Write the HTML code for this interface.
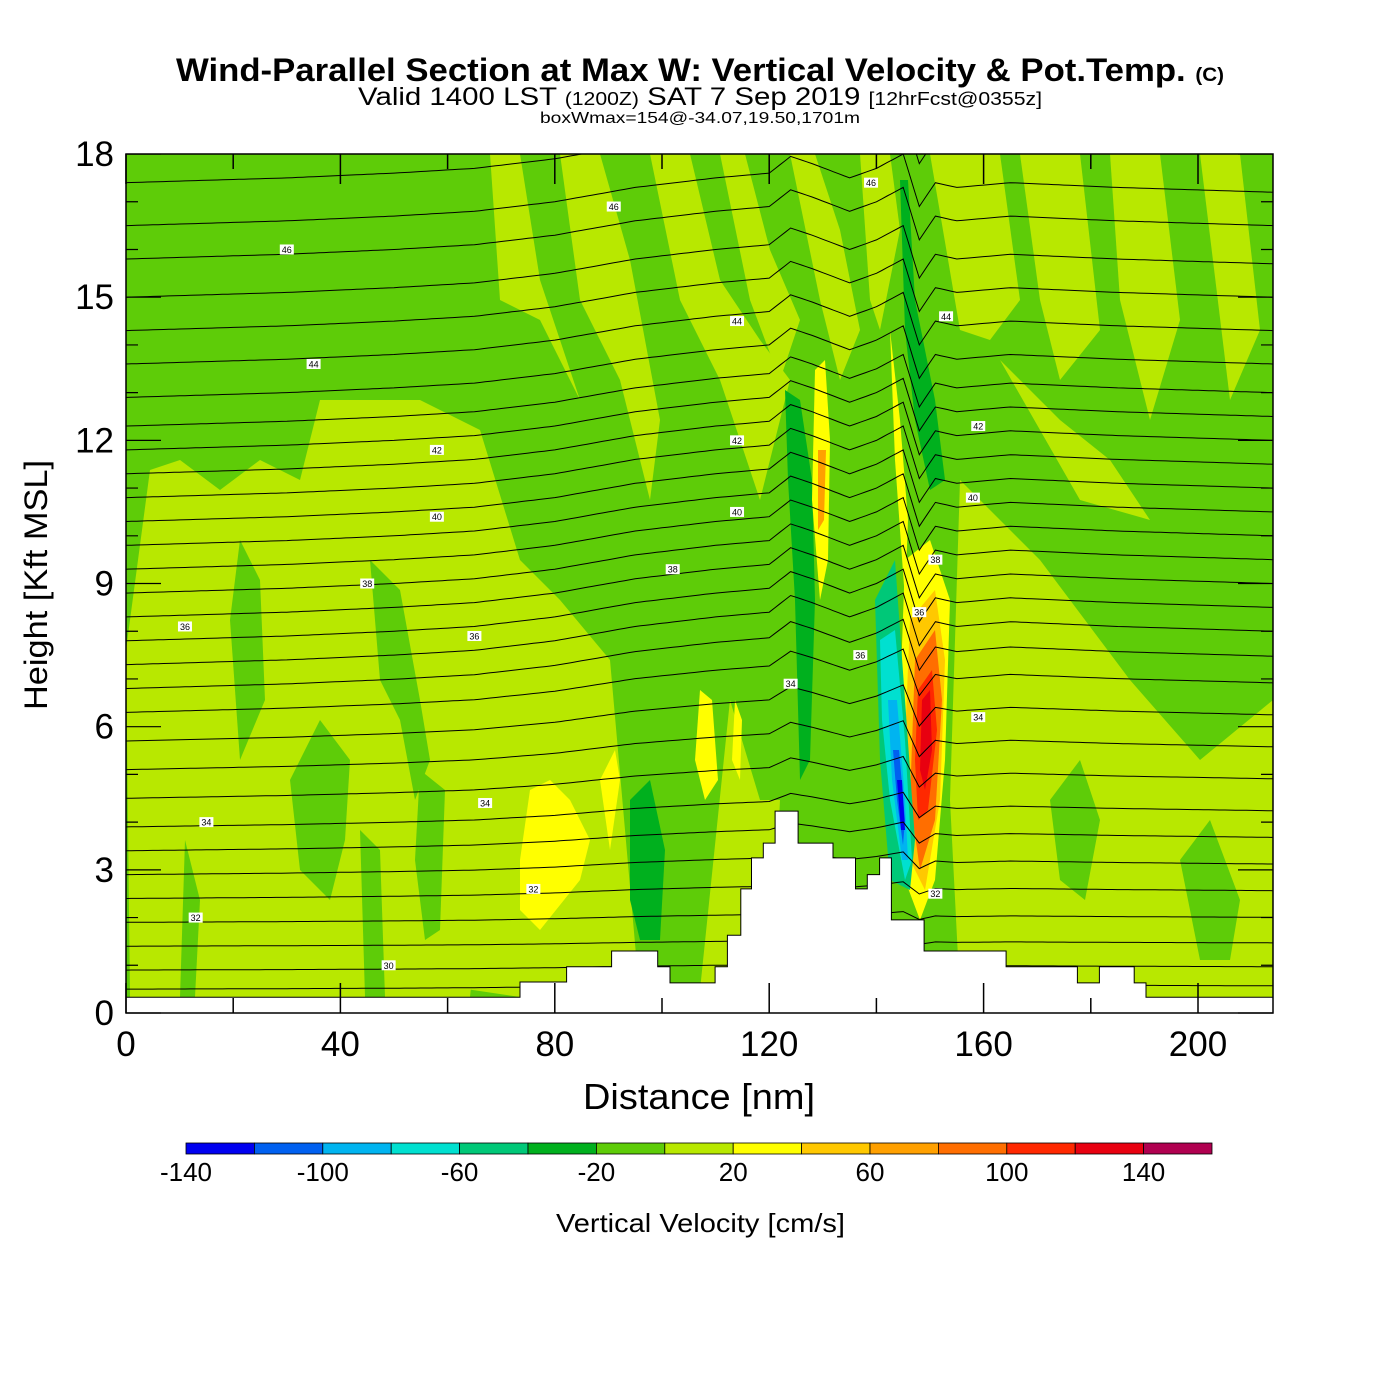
<!DOCTYPE html>
<html><head><meta charset="utf-8"><style>
html,body{margin:0;padding:0;background:#fff;}
svg{display:block;font-family:"Liberation Sans",Arial,sans-serif;}
</style></head><body>
<svg id="c" width="1400" height="1400" viewBox="0 0 1400 1400">
<g>
<text x="176" y="81" font-size="32" font-weight="bold" textLength="1048" lengthAdjust="spacingAndGlyphs">Wind-Parallel Section at Max W: Vertical Velocity &amp; Pot.Temp. <tspan font-size="19">(C)</tspan></text>
<text x="358" y="105" font-size="25" textLength="684" lengthAdjust="spacingAndGlyphs">Valid 1400 LST <tspan font-size="18">(1200Z)</tspan> SAT 7 Sep 2019 <tspan font-size="18">[12hrFcst@0355z]</tspan></text>
<text x="540" y="123" font-size="16" textLength="320" lengthAdjust="spacingAndGlyphs">boxWmax=154@-34.07,19.50,1701m</text>
</g>
<defs><clipPath id="pc"><rect x="126" y="154" width="1147" height="859"/></clipPath></defs>
<g id="plot" clip-path="url(#pc)">
<rect x="126" y="154" width="1147" height="859" fill="#5ecc08"/>
<g id="fills"></g>
<g id="isen" fill="none" stroke="#000" stroke-width="1"></g>
<g id="terrain"></g>
</g>
<g id="axes"></g>
<g id="cbar"></g>
<text x="583" y="1109" font-size="36" textLength="232" lengthAdjust="spacingAndGlyphs">Distance [nm]</text>
<text transform="translate(47,710) rotate(-90)" font-size="32" textLength="250" lengthAdjust="spacingAndGlyphs">Height [Kft MSL]</text>
<text x="556" y="1232" font-size="26" textLength="289" lengthAdjust="spacingAndGlyphs">Vertical Velocity [cm/s]</text>
</svg>
<script>
// ---- data ----
const xTicks=[0,20,40,60,80,100,120,140,160,180,200];
const xTickLabels=["0","40","80","120","160","200"];
const yTicks=[0,3,6,9,12,15,18];
const terrainStart=[0,73.5,82.2,90.6,99.2,101.5,109.9,112.2,114.7,116.7,118.9,121.1,125.4,131.9,136.1,138.3,140.6,142.8,148.9,151.1,164.2,177.5,181.6,188.1,190.3];
const terrainHeight=[0.33,0.65,0.97,1.3,0.97,0.63,0.97,1.63,2.6,3.25,3.56,4.23,3.56,3.25,2.6,2.9,3.25,1.95,1.3,1.3,0.97,0.63,0.97,0.63,0.33];
const cbValues=[-140,-120,-100,-80,-60,-40,-20,0,20,40,60,80,100,120,140,160];
const cbColors=["#0000f0","#0060f0","#00b4f0","#00e0d0","#00c878","#00b01e","#5ecc08","#b8e800","#ffff00","#ffc800","#ffa000","#ff6e00","#ff2800","#e80010","#b00050"];
const cbLabels=[-140,-100,-60,-20,20,60,100,140];
const isenBase=[0.5,0.9,1.4,1.9,2.4,2.9,3.4,3.9,4.5,5.1,5.7,6.3,6.8,7.3,7.8,8.3,8.8,9.3,9.8,10.3,10.8,11.3,11.8,12.3,12.9,13.6,14.3,15.0,15.8,16.5,17.4];
const liftX=[0,30,50,65,80,95,110,120,124,128,135,140,145,148,151,155,165,185,214];
const liftY=[0,0.1,0.2,0.3,0.5,0.8,1.0,1.1,1.45,1.3,1.0,1.2,1.5,0.4,0.9,0.8,0.9,0.8,0.7];
const labels=[[30,16,"46"],[35,13.6,"44"],[58,11.8,"42"],[58,10.4,"40"],[45,9.0,"38"],[11,8.1,"36"],[65,7.9,"36"],[15,4.0,"34"],[67,4.4,"34"],[13,2.0,"32"],[49,1.0,"30"],[76,2.6,"32"],[114,14.5,"44"],[114,12.0,"42"],[114,10.5,"40"],[102,9.3,"38"],[124,6.9,"34"],[137,7.5,"36"],[139,17.4,"46"],[153,14.6,"44"],[159,12.3,"42"],[158,10.8,"40"],[151,9.5,"38"],[148,8.4,"36"],[159,6.2,"34"],[151,2.5,"32"],[91,16.9,"46"]];
// ---- scales ----
const X=v=>126+v*5.36, Y=v=>1013-v*47.72;
const NS="http://www.w3.org/2000/svg";
function mk(t,p,a){const e=document.createElementNS(NS,t);for(const k in a)e.setAttribute(k,a[k]);p.appendChild(e);return e;}
// ---- fill regions ----
const fills=document.getElementById('fills');
const regions=[
["#b8e800","135,940 150,790 190,780 195,650 240,620 300,560 350,540 360,480 390,420 420,500 450,430 480,530 490,600 470,620 490,760 480,900 470,997 130,997 126,650 150,470 180,460 220,490 260,460 300,480 320,400 420,400 480,430 520,560 560,600 610,660 640,1000 700,990 730,700 760,800 780,800 770,997 520,997"],
["#5ecc08","240,540 260,580 265,700 240,760 230,620"],
["#5ecc08","290,780 320,720 350,760 345,840 330,900 300,870"],
["#5ecc08","185,840 200,900 195,997 180,997"],
["#5ecc08","370,560 400,590 420,700 430,760 415,800 400,720 380,680"],
["#5ecc08","420,770 445,790 440,930 425,940 415,860"],
["#5ecc08","360,830 380,850 385,997 365,997"],
["#ffff00","520,860 530,790 550,780 570,800 590,840 580,880 540,930 520,910"],
["#ffff00","600,780 615,750 620,780 610,850"],
["#ffff00","700,690 712,700 718,780 705,800 695,760"],
["#ffff00","735,700 742,720 740,780 732,760"],
["#00b01e","630,800 650,780 665,850 660,940 640,940 630,900"],
["#b8e800","490,154 520,154 540,280 580,400 540,320 500,300"],
["#b8e800","560,154 600,154 630,260 660,420 650,500 620,380 580,300"],
["#b8e800","650,154 690,154 720,280 760,340 790,380 760,500 720,380 680,300"],
["#b8e800","720,154 745,154 770,250 800,320 780,380 750,300"],
["#b8e800","790,154 815,154 840,230 860,330 840,380 820,300"],
["#b8e800","860,154 890,154 900,230 880,330 870,300"],
["#b8e800","930,154 1000,154 1020,300 990,340 960,330"],
["#b8e800","1020,154 1080,154 1100,330 1060,380 1040,300"],
["#b8e800","1110,154 1160,154 1180,320 1150,420 1120,300"],
["#b8e800","1200,154 1240,154 1260,330 1230,400"],
["#b8e800","960,480 1040,560 1130,680 1200,760 1273,700 1273,997 960,997 950,800"],
["#b8e800","1000,360 1060,420 1110,460 1150,520 1080,500"],
["#5ecc08","1050,800 1080,760 1100,820 1085,900 1060,880"],
["#5ecc08","1180,860 1210,820 1240,900 1230,960 1200,960"],
["#00b01e","900,180 908,180 915,300 935,400 945,480 930,490 915,420 905,330"],
["#00b01e","785,390 800,400 812,480 815,600 810,760 800,780 795,600 788,480"],
["#ffff00","815,370 825,360 830,440 828,560 820,600 812,500"],
["#ffa000","818,450 826,450 824,520 818,530"],
["#ffff00","890,330 900,420 908,520 905,600 895,460"],
["#ffff00","905,560 930,540 950,600 945,760 935,880 920,920 905,880 898,760"],
["#ffc800","910,620 935,590 945,660 940,800 925,890 910,860 905,740"],
["#ff6e00","915,660 935,630 942,700 935,820 920,870 910,800"],
["#ff2800","918,690 932,670 937,730 928,810 918,820 915,760"],
["#e80010","922,700 930,690 932,750 925,790 920,770"],
["#00c878","875,600 895,560 905,700 915,840 910,890 890,880 880,760"],
["#00e0d0","880,640 895,630 905,740 912,860 905,880 890,800 882,720"],
["#00b4f0","888,700 897,700 905,800 908,860 902,860 892,780"],
["#0060f0","893,750 899,750 905,820 903,845 897,800"],
["#0000f0","897,780 902,780 905,830 901,830"]
];
for(const r of regions){const p=mk('polygon',fills,{points:r[1],fill:r[0]});

}
// ---- isentropes ----
const isen=document.getElementById('isen');
function liftAt(x){for(let i=1;i<liftX.length;i++){if(x<=liftX[i]){const t=(x-liftX[i-1])/(liftX[i]-liftX[i-1]);return liftY[i-1]+t*(liftY[i]-liftY[i-1]);}}return liftY[liftY.length-1];}
isenBase.forEach((b,k)=>{const w=Math.min(1,Math.max(0.1,(b-1)/6));let d='';
for(let x=0;x<=214;x+=1){const h=b+liftAt(x)*w;d+=(x?'L':'M')+X(x).toFixed(1)+','+Y(h).toFixed(1);}
const p=mk('path',isen,{d:d});

});
labels.forEach(l=>{const g=mk('g',isen,{});


mk('rect',g,{x:X(l[0])-7,y:Y(l[1])-5,width:14,height:10,fill:'#fff',stroke:'none'});
const t=mk('text',g,{x:X(l[0]),y:Y(l[1])+3.5,'font-size':9,'text-anchor':'middle',fill:'#000',stroke:'none'});t.textContent=l[2];});
// ---- terrain ----
const ter=document.getElementById('terrain');
let td='M'+X(0)+','+Y(0);
terrainStart.forEach((s,i)=>{const e=i+1<terrainStart.length?terrainStart[i+1]:214;td+='L'+X(s).toFixed(1)+','+Y(terrainHeight[i]).toFixed(1)+'L'+X(e).toFixed(1)+','+Y(terrainHeight[i]).toFixed(1);});
td+='L'+X(214)+','+Y(0)+'Z';
const tp=mk('path',ter,{d:td,fill:'#fff',stroke:'#000','stroke-width':1});


// ---- axes ----
const ax=document.getElementById('axes');
const fr=mk('rect',ax,{x:126,y:154,width:1147,height:859,fill:'none',stroke:'#000','stroke-width':1.5});


xTicks.forEach(v=>{const major=v%40===0;const L=major?30:15;
const t=mk('path',ax,{d:`M${X(v)},1013V${1013-L}M${X(v)},154V${154+L}`,stroke:'#000','stroke-width':1.5});

});
xTickLabels.forEach(s=>{const v=+s;const t=mk('text',ax,{x:X(v),y:1056,'font-size':35,'text-anchor':'middle'});t.textContent=s;

});
for(let v=0;v<=18;v++){const L=v%3===0?35:12;
const t=mk('path',ax,{d:`M126,${Y(v)}H${126+L}M1273,${Y(v)}H${1273-L}`,stroke:'#000','stroke-width':1.2});

}
yTicks.forEach(v=>{const t=mk('text',ax,{x:114,y:Y(v)+12,'font-size':35,'text-anchor':'end'});t.textContent=v;

});
// ---- colorbar ----
const cb=document.getElementById('cbar');
const CX=v=>186+(v+140)/300*1026;
cbColors.forEach((c,i)=>{const r=mk('rect',cb,{x:CX(cbValues[i]),y:1143,width:CX(cbValues[i+1])-CX(cbValues[i]),height:11,fill:c,stroke:'#000','stroke-width':0.8});

});
cbLabels.forEach(v=>{const t=mk('text',cb,{x:CX(v),y:1181,'font-size':26,'text-anchor':'middle'});t.textContent=v;

});
</script>
</body></html>
